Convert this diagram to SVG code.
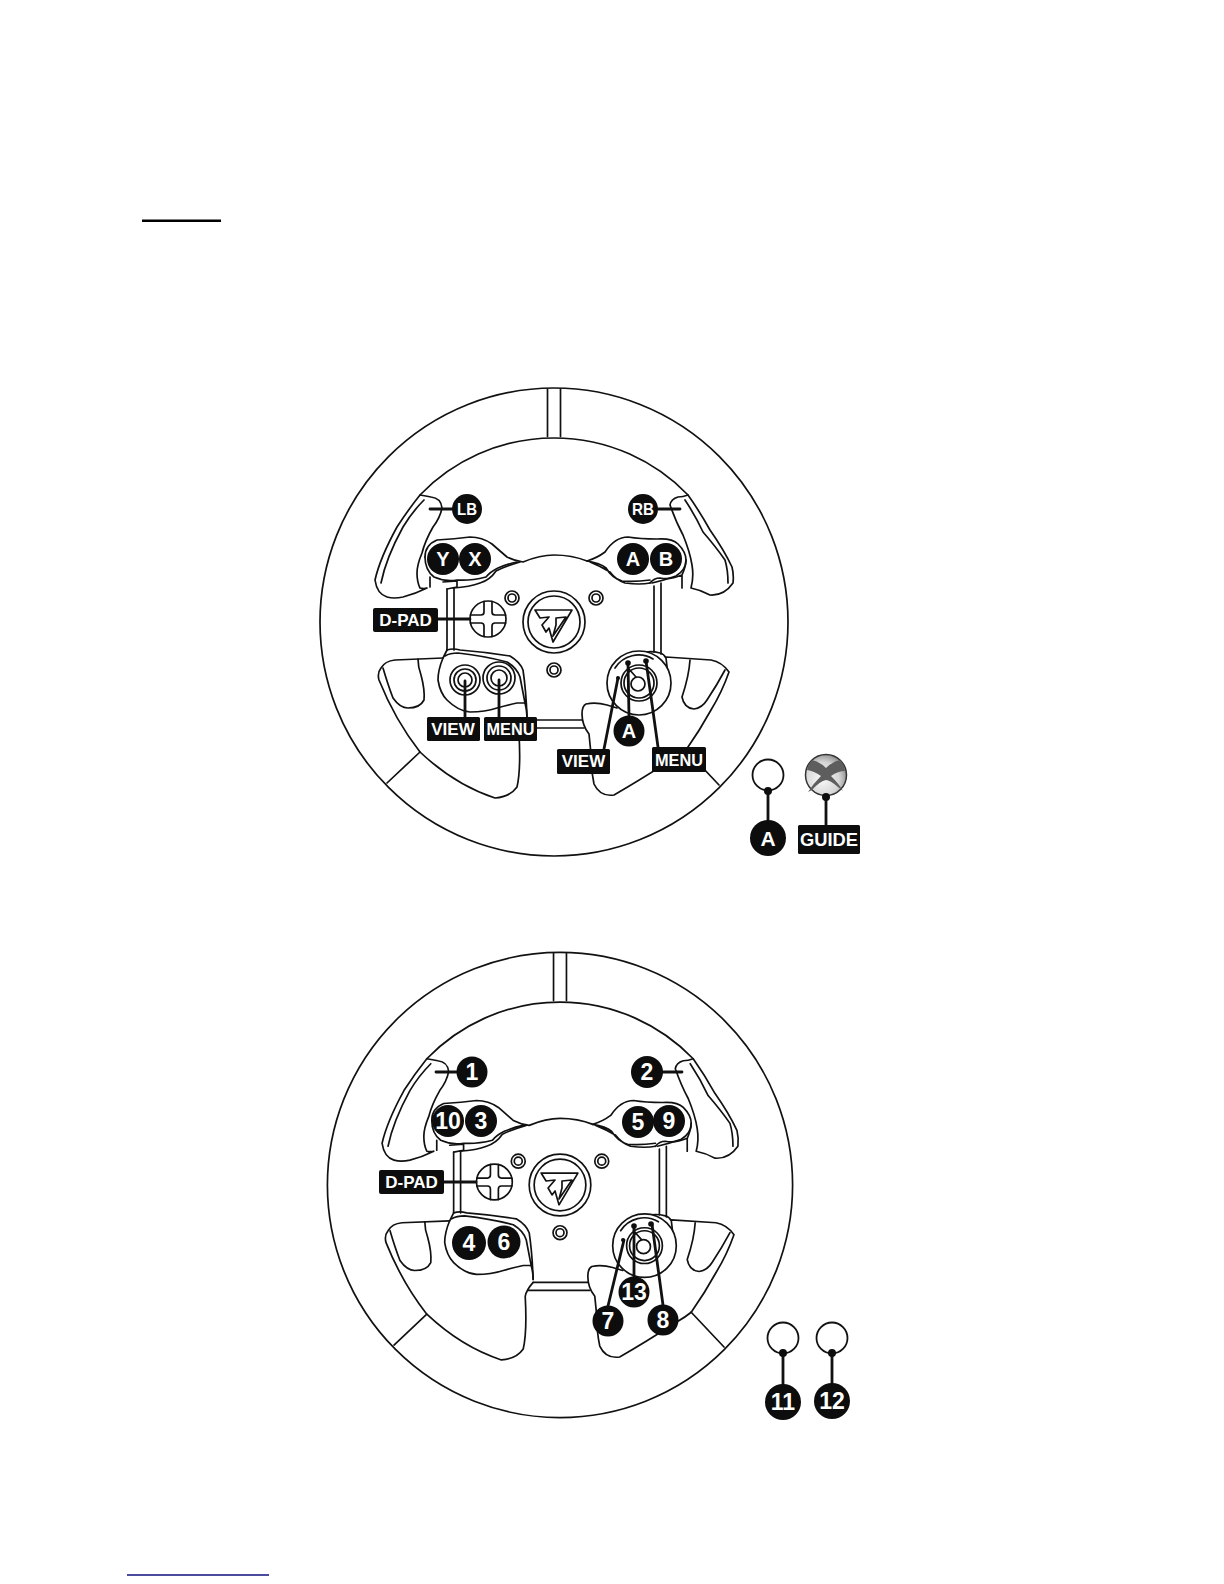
<svg xmlns="http://www.w3.org/2000/svg" width="1224" height="1584" viewBox="0 0 1224 1584">
<style>
.l{fill:none;stroke:#111;stroke-width:1.7;stroke-linecap:round;stroke-linejoin:round}
.w{fill:#fff;stroke:#111;stroke-width:1.7;stroke-linejoin:round}
.c{stroke:#111;stroke-width:2.8;fill:none;stroke-linecap:round}
.b{fill:#0d0d0d}
.t{fill:#fff;font-family:"Liberation Sans",Arial,sans-serif;font-weight:700;text-anchor:middle}
.s17{font-size:17px}.s19{font-size:20px}.s21{font-size:23px}
</style>
<defs>
<radialGradient id="sphere" cx="0.4" cy="0.6" r="0.7"><stop offset="0" stop-color="#fafafa"/><stop offset="0.6" stop-color="#d6d6d6"/><stop offset="1" stop-color="#777"/></radialGradient>
<g id="wheel">
<circle class="l" cx="554" cy="622" r="234"/>
<path class="l" d="M420 495A186 186 0 0 1 688 495"/>
<path class="l" d="M547.500 389V436.500M560.500 389V436.500"/>
<path class="l" d="M420 752L387 783M686 750L719 785"/>
<!-- left paddle -->
<path class="l" d="M420 495Q426 496 431 497Q441 498 442 508Q440 518 433 527Q425 541 422 553Q417 565 417 573Q417 582 420 588Q424 589 427 588Q415 594 403 597Q394 599 387 597Q377 594 375 580Q380 558 397 527Q408 510 420 495Z"/>
<path class="l" d="M381 583Q386 558 403 527Q412 512 424 500"/>
<!-- right paddle -->
<path class="l" d="M688 495Q683 497 678 497Q671 499 670 505Q676 522 683 535Q690 552 692 565Q694 577 691 588Q701 590 710 595Q724 596 733 583Q734 575 732 567Q724 550 710 530Q700 512 688 495Z"/>
<path class="l" d="M728 583Q728 570 725 560Q716 547 703 532Q695 515 685 500"/>
<!-- upper button housings and plate -->
<path class="l" d="M425 557Q425 545 437 540Q455 539 470 537Q482 537 492 544Q500 551 507 557Q515 561 523 562Q540 555 554 555Q572 555 587 561Q597 558 605 552Q615 537 628 537Q640 539 657 539Q672 538 678 544Q686 552 686 560Q686 570 676 576Q665 580 652 583"/>
<path class="l" d="M425 557Q425 570 434 577Q445 582 457 580Q470 581 486 577Q490 572 498 568Q507 564 517 562"/>
<path class="l" d="M453 588Q470 587 480 583Q490 580 496 571Q506 566 520 562"/>
<path class="l" d="M590 562Q600 566 610 572Q616 580 625 583Q640 585 650 583M587 561Q600 563 606 568Q612 578 622 581Q635 582 650 580"/>
<path class="l" d="M430 577L430 587M443 582L457 581L457 587L447 589M650 583Q654 578 660 578Q670 580 682 575L682 588M682 575Q686 566 686 560"/>
<!-- vertical spokes -->
<path class="l" d="M447 589V650M454 588V650M654 586V652M661 583V654"/>
<!-- lower left housing and grip -->
<path class="l" d="M447 650L443 658Q438 670 438 680Q440 693 447 700Q458 711 470 712Q485 712 497 708Q507 705 517 703L525 703Q527 710 527 717"/>
<path class="l" d="M447 650Q453 648 460 650Q485 652 510 656Q520 662 523 670Q526 690 527 717M445 656Q450 653 458 653Q485 656 507 662Q517 668 520 677L525 703"/>
<path class="l" d="M443 658L395 660Q385 661 381 668Q377 673 379 680Q395 720 420 752Q455 785 495 798Q510 797 517 787Q521 770 519 734Q520 728 527 720"/>
<path class="l" d="M383 668Q388 685 393 698Q400 708 408 708Q420 708 424 700Q425 690 421 675Q418 667 418 659"/>
<path class="l" d="M527 720H582M522 728H584"/>
<!-- right grip -->
<path class="l" d="M646 652Q652 651 660 653Q664 654 666 658M666 658L668 675M666 657L711 660Q722 662 729 672Q722 692 711 710Q700 730 686 750Q680 755 671 760Q640 780 614 795Q600 797 594 784Q591 770 591 754L589 734Q582 725 582 714Q582 706 586 704Q596 702 607 705L617 708"/>
<path class="l" d="M690 660Q689 676 682 697Q684 708 694 709Q702 708 707 700Q717 685 725 670"/>
<!-- centre bolts and logo -->
<circle class="l" cx="512" cy="598" r="7"/><circle class="l" cx="512" cy="598" r="4"/>
<circle class="l" cx="596" cy="598" r="7"/><circle class="l" cx="596" cy="598" r="4"/>
<circle class="l" cx="554" cy="670" r="7"/><circle class="l" cx="554" cy="670" r="4"/>
<circle class="l" cx="554" cy="622" r="31"/><circle class="l" cx="554" cy="622" r="26"/>
<path class="l" d="M535 610H572L553 642L549 628L546 632L542 625L549 617L540 618ZM556 618L566 617L553 636L556 625Z"/>
<!-- dpad -->
<circle class="w" cx="488" cy="619" r="18"/>
<path class="l" d="M470.500 615H481Q484 615 484 612V601.500M492 601.500V612Q492 615 495 615H505.500M505.500 623H495Q492 623 492 626V636.500M484 636.500V626Q484 623 481 623H470.500"/>
<!-- rotary -->
<circle class="w" cx="639" cy="683" r="32"/>
<path class="l" d="M615 668A28 28 0 0 1 653 659"/>
<circle class="l" cx="639" cy="683" r="18"/><circle class="l" cx="639" cy="683" r="15"/><circle class="l" cx="638" cy="684" r="7"/>
<path class="l" d="M628 668L636 677"/>
</g>
</defs>
<rect width="1224" height="1584" fill="#fff"/>
<path d="M142 220.700H221" stroke="#000" stroke-width="2.500"/>
<path d="M127 1575H269" stroke="#10107f" stroke-width="1.500"/>

<g id="wheel-top"><use href="#wheel"/>
<circle class="l" cx="465" cy="680" r="15"/><circle class="l" cx="465" cy="680" r="11"/><circle class="l" cx="465" cy="680" r="7"/>
<circle class="l" cx="499" cy="678" r="16"/><circle class="l" cx="499" cy="678" r="12"/><circle class="l" cx="499" cy="678" r="8"/>
</g>
<g id="wheel-bottom"><use href="#wheel" transform="translate(560 1185) scale(.994) translate(-554 -622)"/></g>

<g id="connectors">
<path class="c" d="M430 509H452M658 509H680M438 619H470M465 681V717M499 680V717M628 664L629 716M646 661L658 747M618 678L604 749M768 791V822M826 797V825"/>
<path class="c" d="M436 1072H457M662 1072H682M444 1182H476M634 1226L634 1277M652 1224L663 1305M624 1240L608 1306M783 1353V1385M832 1353V1385"/>
<circle class="b" cx="628" cy="663" r="2.800"/><circle class="b" cx="646" cy="661" r="2.800"/><circle class="b" cx="618" cy="678" r="2"/>
<circle class="b" cx="634" cy="1226" r="2.800"/><circle class="b" cx="651" cy="1224" r="2.800"/><circle class="b" cx="623" cy="1240" r="2"/>
</g>

<g id="n-lb"><circle class="b" cx="467" cy="509" r="15"/><text class="t s17" x="467" y="515" textLength="20" lengthAdjust="spacingAndGlyphs">LB</text></g>
<g id="n-y"><circle class="b" cx="443" cy="559" r="16"/><text class="t s19" x="443" y="566">Y</text></g>
<g id="n-x"><circle class="b" cx="475" cy="559" r="16"/><text class="t s19" x="475" y="566">X</text></g>
<g id="n-rb"><circle class="b" cx="643" cy="509" r="15"/><text class="t s17" x="643" y="515" textLength="22" lengthAdjust="spacingAndGlyphs">RB</text></g>
<g id="n-a"><circle class="b" cx="633" cy="559" r="16"/><text class="t s19" x="633" y="566">A</text></g>
<g id="n-b"><circle class="b" cx="666" cy="559" r="16"/><text class="t s19" x="666" y="566">B</text></g>
<g id="n-dpad1"><rect class="b" x="373" y="608" width="65" height="24" rx="2"/><text class="t s17" x="405.500" y="626">D-PAD</text></g>
<g id="n-view1"><rect class="b" x="427" y="717" width="53" height="24" rx="1.500"/><text class="t s17" x="453" y="735">VIEW</text></g>
<g id="n-menu1"><rect class="b" x="484" y="717" width="53" height="24" rx="1.500"/><text class="t s17" x="510.500" y="735" textLength="48" lengthAdjust="spacingAndGlyphs">MENU</text></g>
<g id="n-view2"><rect class="b" x="557" y="749" width="53" height="25" rx="1.500"/><text class="t s17" x="583.500" y="767">VIEW</text></g>
<g id="n-menu2"><rect class="b" x="652" y="747" width="54" height="25" rx="1.500"/><text class="t s17" x="679" y="766" textLength="48" lengthAdjust="spacingAndGlyphs">MENU</text></g>
<g id="n-a2"><circle class="b" cx="629" cy="731" r="15.500"/><text class="t s19" x="629" y="738">A</text></g>

<g id="n-button-a"><circle cx="768" cy="775" r="15.500" fill="#fff" stroke="#111" stroke-width="1.800"/><circle class="b" cx="768" cy="791" r="4"/></g>
<g id="n-a3"><circle class="b" cx="768" cy="838" r="18"/><text class="t" font-size="21" x="768" y="846">A</text></g>
<g id="n-button-guide"><circle cx="826" cy="775" r="20.500" fill="url(#sphere)" stroke="#333" stroke-width="1.500"/>
<path d="M812 760Q820 762 826 768Q832 762 840 760Q845 765 845 771Q838 771 831 776Q839 784 843 791L838 787Q830 780 826 780Q820 781 812 790L808 792Q813 784 821 776Q814 771 807 770Q808 764 812 760Z" fill="#5e5e5e"/>
<circle class="b" cx="826" cy="797" r="4"/></g>
<g id="n-guide"><rect class="b" x="798" y="825" width="62" height="29" rx="1.500"/><text class="t" font-size="18" x="829" y="846" textLength="58" lengthAdjust="spacingAndGlyphs">GUIDE</text></g>

<g id="n-1"><circle class="b" cx="472" cy="1072" r="15.500"/><text class="t s21" x="472" y="1080">1</text></g>
<g id="n-2"><circle class="b" cx="647" cy="1072" r="16"/><text class="t s21" x="647" y="1080">2</text></g>
<g id="n-10"><circle class="b" cx="448" cy="1121" r="16"/><text class="t s21" x="448" y="1129">10</text></g>
<g id="n-3"><circle class="b" cx="481" cy="1121" r="16"/><text class="t s21" x="481" y="1129">3</text></g>
<g id="n-5"><circle class="b" cx="638" cy="1122" r="16"/><text class="t s21" x="638" y="1130">5</text></g>
<g id="n-9"><circle class="b" cx="669" cy="1121" r="16"/><text class="t s21" x="669" y="1129">9</text></g>
<g id="n-dpad2"><rect class="b" x="379" y="1170" width="65" height="24" rx="2"/><text class="t s17" x="411.500" y="1188">D-PAD</text></g>
<g id="n-4"><circle class="b" cx="469" cy="1243" r="17"/><text class="t s21" x="469" y="1251">4</text></g>
<g id="n-6"><circle class="b" cx="504" cy="1242" r="16.500"/><text class="t s21" x="504" y="1250">6</text></g>
<g id="n-13"><circle class="b" cx="634" cy="1292" r="15.500"/><text class="t s21" x="634" y="1300">13</text></g>
<g id="n-7"><circle class="b" cx="608" cy="1321" r="15.500"/><text class="t s21" x="608" y="1329">7</text></g>
<g id="n-8"><circle class="b" cx="663" cy="1320" r="15.500"/><text class="t s21" x="663" y="1328">8</text></g>
<g id="n-button-11"><circle cx="783" cy="1338" r="15.500" fill="#fff" stroke="#111" stroke-width="1.800"/><circle class="b" cx="783" cy="1353" r="4"/></g>
<g id="n-button-12"><circle cx="832" cy="1338" r="15.500" fill="#fff" stroke="#111" stroke-width="1.800"/><circle class="b" cx="832" cy="1353" r="4"/></g>
<g id="n-11"><circle class="b" cx="783" cy="1402" r="18"/><text class="t s21" x="783" y="1410">11</text></g>
<g id="n-12"><circle class="b" cx="832" cy="1401" r="18"/><text class="t s21" x="832" y="1409">12</text></g>
</svg>
